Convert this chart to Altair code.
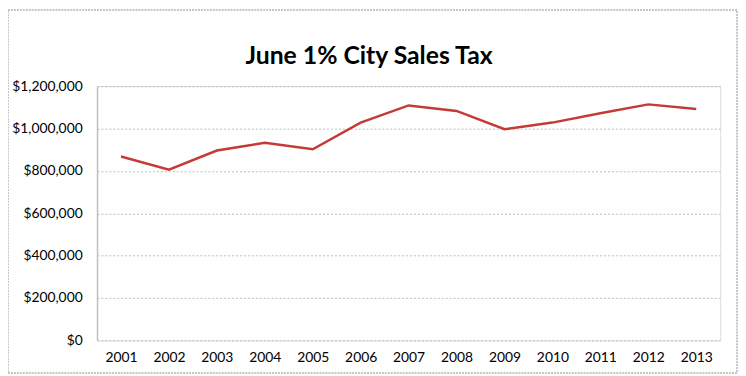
import altair as alt
import pandas as pd

years = ["2001", "2002", "2003", "2004", "2005", "2006", "2007",
         "2008", "2009", "2010", "2011", "2012", "2013"]
sales_tax = [868000, 806000, 896000, 933000, 902000, 1028000, 1109000,
             1083000, 997000, 1028000, 1072000, 1114000, 1092000]
title_text = "June 1% City Sales Tax"

df = pd.DataFrame({"year": years, "tax": sales_tax})

FONT = "Lato"

line = alt.Chart(df).mark_line(color="#C43A36", strokeWidth=2.5).encode(
    x=alt.X("year:O", title=None, sort=None,
            scale=alt.Scale(padding=0.5),
            axis=alt.Axis(labelAngle=0, domain=False, ticks=False,
                          labelPadding=10, labelFontSize=14,
                          labelColor="#000000", labelFont=FONT)),
    y=alt.Y("tax:Q", title=None,
            scale=alt.Scale(domain=[0, 1200000], nice=False),
            axis=alt.Axis(values=[0, 200000, 400000, 600000, 800000, 1000000, 1200000],
                          format="$,.0f", ticks=False, domain=True,
                          domainColor="#BFBFBF", domainWidth=1.5,
                          grid=True, gridColor="#BDBDBD", gridDash=[2, 2],
                          gridWidth=1, labelPadding=15, labelFontSize=14,
                          labelColor="#000000", labelFont=FONT)),
)

single = pd.DataFrame({"t": [title_text]})

title = alt.Chart(single).mark_text(
    font=FONT, fontSize=25, fontWeight="bold", color="#000000",
    align="center", baseline="alphabetic"
).encode(
    x=alt.value(275), y=alt.value(-22), text="t:N",
)

border = alt.Chart(single).mark_rect(
    fill=None, stroke="#8C8C8C", strokeWidth=1, strokeDash=[2, 1]
).encode(
    x=alt.value(-90), x2=alt.value(647),
    y=alt.value(-77), y2=alt.value(290),
)

chart = alt.layer(line, title, border).properties(
    width=630,
    height=257,
    autosize=alt.AutoSizeParams(type="none"),
    padding={"left": 90, "top": 77, "right": 18, "bottom": 34},
).configure_view(stroke=None).configure(background="white")

chart.save("out.html", embed_options={"renderer": "svg", "actions": False})
